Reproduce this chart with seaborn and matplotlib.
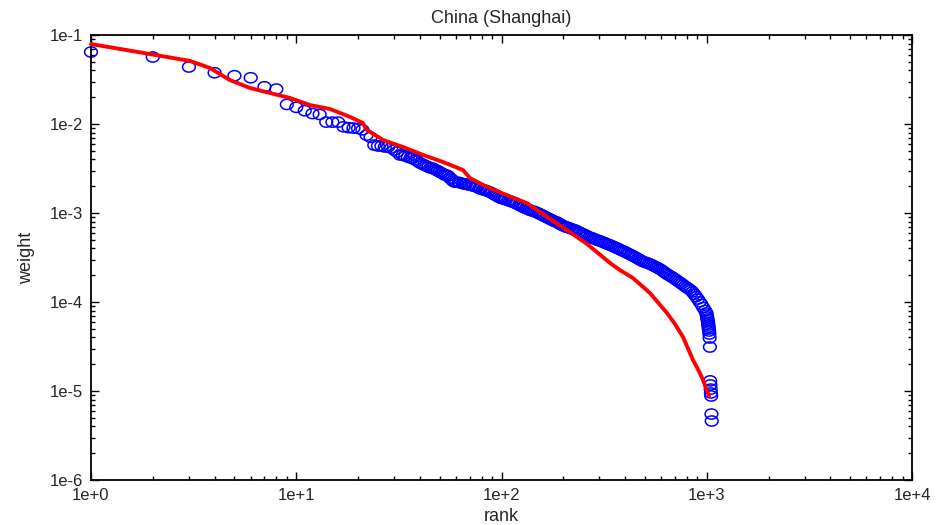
import numpy as np
import pandas as pd
import matplotlib
matplotlib.use("Agg")
import matplotlib.pyplot as plt
import seaborn as sns
from matplotlib.path import Path
from matplotlib.ticker import FixedLocator, FixedFormatter, LogLocator, NullFormatter

# observed rank / weight (blue circles)
obs_rank = [
    1, 2, 3, 4, 5, 6, 7, 8, 9, 10, 11, 12, 13, 14, 15, 16, 17, 18, 19, 20,
    21, 22, 23, 24, 25, 26, 27, 28, 29, 30, 31, 32, 33, 34, 35, 36, 37, 38, 39, 40,
    41, 42, 43, 44, 45, 46, 47, 48, 49, 50, 51, 52, 53, 54, 55, 56, 57, 58, 59, 60,
    62, 63, 65, 66, 67, 69, 70, 72, 73, 75, 76, 78, 79, 81, 83, 84, 86, 88, 90, 92,
    93, 95, 97, 99, 101, 103, 105, 108, 110, 112, 114, 117, 119, 122, 124, 127, 129, 132, 135, 137,
    140, 143, 146, 149, 152, 155, 158, 161, 165, 168, 172, 175, 179, 182, 186, 190, 194, 198, 202, 206,
    210, 214, 219, 223, 228, 232, 237, 242, 247, 252, 257, 262, 268, 273, 279, 284, 290, 296, 302, 308,
    315, 321, 328, 334, 341, 348, 355, 363, 370, 378, 385, 393, 401, 410, 418, 427, 435, 444, 453, 463,
    472, 482, 492, 502, 512, 523, 533, 544, 555, 567, 578, 590, 602, 615, 627, 640, 653, 667, 680, 694,
    709, 723, 738, 753, 769, 785, 801, 817, 834, 851, 869, 887, 905, 923, 942, 961, 981,
    996, 1000, 1004, 1008, 1012, 1015, 1018, 1021, 1024, 1027, 1030, 1033, 1036,
    1039, 1042, 1045, 1048, 1051, 1054, 1057,
]
obs_weight = [
    0.0644, 0.0566, 0.0437, 0.0377, 0.0349, 0.0331, 0.0262, 0.0247, 0.0166, 0.0154,
    0.0141, 0.0131, 0.0128, 0.0105, 0.0105, 0.0105, 0.0093, 0.0091, 0.0090, 0.0089,
    0.0086, 0.0075, 0.0071, 0.0058, 0.00566, 0.00566, 0.00552, 0.00552, 0.00537, 0.00510,
    0.00485, 0.00449, 0.00449, 0.00437, 0.00426, 0.00415, 0.00415, 0.00394, 0.00384, 0.00365,
    0.00356, 0.00347, 0.00338, 0.00329, 0.00321, 0.00321, 0.00312, 0.00304, 0.00297, 0.00289,
    0.00282, 0.00275, 0.00267, 0.00267, 0.00261, 0.00247, 0.00241, 0.00229, 0.00223, 0.00223,
    2.21e-3, 2.18e-3, 2.14e-3, 2.12e-3, 2.11e-3, 2.07e-3, 2.06e-3, 2.03e-3, 2.01e-3, 1.98e-3,
    1.95e-3, 1.90e-3, 1.86e-3, 1.83e-3, 1.80e-3, 1.79e-3, 1.75e-3, 1.72e-3, 1.67e-3, 1.62e-3,
    1.60e-3, 1.55e-3, 1.51e-3, 1.47e-3, 1.45e-3, 1.43e-3, 1.41e-3, 1.38e-3, 1.36e-3, 1.34e-3,
    1.32e-3, 1.29e-3, 1.26e-3, 1.23e-3, 1.20e-3, 1.17e-3, 1.15e-3, 1.12e-3, 1.10e-3, 1.08e-3,
    1.06e-3, 1.05e-3, 1.03e-3, 1.01e-3, 9.87e-4, 9.67e-4, 9.45e-4, 9.23e-4, 8.99e-4, 8.79e-4,
    8.56e-4, 8.39e-4, 8.18e-4, 8.01e-4, 7.92e-4, 7.66e-4, 7.44e-4, 7.27e-4, 7.11e-4, 6.96e-4,
    6.91e-4, 6.78e-4, 6.64e-4, 6.54e-4, 6.44e-4, 6.31e-4, 6.15e-4, 6.01e-4, 5.87e-4, 5.78e-4,
    5.63e-4, 5.50e-4, 5.37e-4, 5.28e-4, 5.20e-4, 5.10e-4, 5.01e-4, 4.92e-4, 4.85e-4, 4.76e-4,
    4.66e-4, 4.58e-4, 4.48e-4, 4.41e-4, 4.33e-4, 4.23e-4, 4.15e-4, 4.06e-4, 3.98e-4, 3.88e-4,
    3.80e-4, 3.72e-4, 3.65e-4, 3.55e-4, 3.47e-4, 3.39e-4, 3.32e-4, 3.23e-4, 3.15e-4, 3.06e-4,
    2.98e-4, 2.90e-4, 2.84e-4, 2.79e-4, 2.75e-4, 2.70e-4, 2.65e-4, 2.59e-4, 2.52e-4, 2.47e-4,
    2.41e-4, 2.35e-4, 2.28e-4, 2.20e-4, 2.13e-4, 2.06e-4, 2.00e-4, 1.95e-4, 1.89e-4, 1.84e-4,
    1.78e-4, 1.72e-4, 1.66e-4, 1.61e-4, 1.55e-4, 1.50e-4, 1.45e-4, 1.41e-4, 1.36e-4, 1.30e-4,
    1.22e-4, 1.15e-4, 1.08e-4, 1.005e-4, 9.40e-5, 8.67e-5, 8.03e-5,
    7.52e-5, 7.14e-5, 6.78e-5, 6.44e-5, 6.12e-5, 5.81e-5, 5.51e-5, 5.24e-5, 4.97e-5, 4.72e-5,
    4.37e-5, 3.94e-5, 3.12e-5,
    1.30e-5, 1.17e-5, 1.05e-5, 9.50e-6, 8.79e-6, 5.51e-6, 4.60e-6,
]

# fitted curve (red line)
fit_rank = [1, 1.94, 3.04, 3.8, 4.75, 5.95, 7.45, 9.33, 11.7, 14.6, 18.3, 21.1, 22.1,
            26.5, 33.1, 41.5, 51.9, 64.9, 70.2, 85, 106, 133, 167, 208, 261, 338,
            377, 437, 529, 640, 700, 766, 857, 910, 959, 1026]
fit_weight = [0.0792, 0.0611, 0.0511, 0.0426, 0.0312, 0.0254, 0.0223, 0.0196, 0.0163,
              0.01475, 0.0120, 0.01026, 0.00857, 0.00661, 0.00552, 0.00449, 0.00374,
              0.00304, 0.00247, 0.00196, 0.00159, 0.00129, 0.000901, 0.000644, 0.000449,
              0.000274, 0.000229, 0.000186, 0.000126, 7.52e-5, 5.66e-5, 4.04e-5, 2.23e-5,
              1.72e-5, 1.33e-5, 8.8e-6]

x_ticks = [1, 10, 100, 1000, 10000]
x_labels = ["1e+0", "1e+1", "1e+2", "1e+3", "1e+4"]
y_ticks = [1e-6, 1e-5, 1e-4, 1e-3, 1e-2, 1e-1]
y_labels = ["1e-6", "1e-5", "1e-4", "1e-3", "1e-2", "1e-1"]

obs = pd.DataFrame({"rank": obs_rank, "weight": obs_weight})
fit = pd.DataFrame({"rank": fit_rank, "weight": fit_weight})

sns.set_style("ticks")
plt.rcParams["font.family"] = ["Liberation Sans", "DejaVu Sans"]

fig = plt.figure(figsize=(9.38, 5.25), dpi=100)
ax = fig.add_axes([0.097, 0.0857, 0.8753, 0.8476])

# open ellipse marker, a bit wider than tall like the original
t = np.linspace(0, 2 * np.pi, 49)
ellipse = Path(np.column_stack([np.cos(t), 0.8 * np.sin(t)]))

sns.scatterplot(data=obs, x="rank", y="weight", ax=ax, marker=ellipse, s=84,
                facecolors="none", edgecolor="#0000ff", linewidth=1.1,
                clip_on=False, zorder=2)
sns.lineplot(data=fit, x="rank", y="weight", ax=ax, color="#ff0000",
             linewidth=2.8, clip_on=False, zorder=3)

ax.set_xscale("log")
ax.set_yscale("log")
ax.set_xlim(1, 1e4)
ax.set_ylim(1e-6, 1e-1)

ax.xaxis.set_major_locator(FixedLocator(x_ticks))
ax.xaxis.set_major_formatter(FixedFormatter(x_labels))
ax.yaxis.set_major_locator(FixedLocator(y_ticks))
ax.yaxis.set_major_formatter(FixedFormatter(y_labels))
ax.xaxis.set_minor_locator(LogLocator(base=10, subs=range(2, 10), numticks=20))
ax.yaxis.set_minor_locator(LogLocator(base=10, subs=range(2, 10), numticks=20))
ax.xaxis.set_minor_formatter(NullFormatter())
ax.yaxis.set_minor_formatter(NullFormatter())

ax.tick_params(which="both", direction="in", top=True, right=True, width=1, color="black")
ax.tick_params(which="major", length=6, labelsize=12, pad=6)
ax.tick_params(which="minor", length=3)
for sp in ax.spines.values():
    sp.set_linewidth(1.3)
    sp.set_color("black")

ax.set_title("China (Shanghai)", fontsize=13, pad=9)
ax.set_xlabel("rank", fontsize=13, labelpad=3)
ax.set_ylabel("weight", fontsize=13, labelpad=10)

fig.savefig("out.png", dpi=100)
